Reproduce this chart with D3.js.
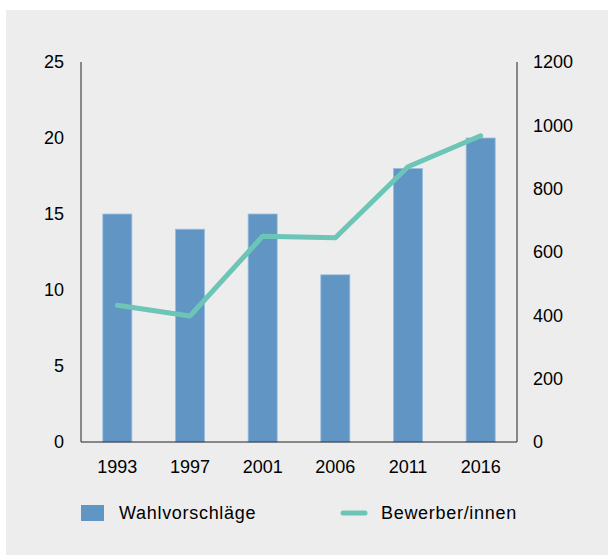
<!DOCTYPE html>
<html><head><meta charset="utf-8">
<script src="https://cdn.jsdelivr.net/npm/d3@7"></script>
<style>body{margin:0;background:#fff}svg{display:block}</style>
</head><body>
<script>
const years = ["1993","1997","2001","2006","2011","2016"];
const wahlvorschlaege = [15, 14, 15, 11, 18, 20];
const bewerber = [432, 398, 650, 645, 869, 967];
const leftTicks = [0, 5, 10, 15, 20, 25];
const rightTicks = [0, 200, 400, 600, 800, 1000, 1200];
const legendLabels = ["Wahlvorschläge", "Bewerber/innen"];

const W = 609, H = 555;
const svg = d3.select("body").append("svg").attr("width", W).attr("height", H);
const font = "'Liberation Sans', Arial, Helvetica, sans-serif";
svg.append("rect").attr("x", 6).attr("y", 10).attr("width", 602).attr("height", 545).attr("fill", "#ededed");

const x0 = 81, x1 = 517, yTop = 62, yBot = 442;
const x = d3.scaleBand().domain(years).range([x0, x1]).paddingInner(0.6).paddingOuter(0.3);
const yL = d3.scaleLinear().domain([0, 25]).range([yBot, yTop]);
const yR = d3.scaleLinear().domain([0, 1200]).range([yBot, yTop]);

// bars
svg.append("g").selectAll("rect").data(years).join("rect")
  .attr("x", d => x(d)).attr("width", x.bandwidth())
  .attr("y", (d, i) => yL(wahlvorschlaege[i]))
  .attr("height", (d, i) => yBot - yL(wahlvorschlaege[i]))
  .attr("fill", "#6195c4").attr("stroke", "#9dbde0").attr("stroke-width", 0.8);

// axes lines
const axisC = "#222";
svg.append("line").attr("x1", x0).attr("x2", x0).attr("y1", yTop).attr("y2", yBot).attr("stroke", axisC).attr("stroke-width", 1);
svg.append("line").attr("x1", x1).attr("x2", x1).attr("y1", yTop).attr("y2", yBot).attr("stroke", axisC).attr("stroke-width", 1);
svg.append("line").attr("x1", x0).attr("x2", x1).attr("y1", yBot).attr("y2", yBot).attr("stroke", axisC).attr("stroke-width", 1);

// line
const line = d3.line().x((d, i) => x(years[i]) + x.bandwidth() / 2).y(d => yR(d));
svg.append("path").datum(bewerber).attr("d", line).attr("fill", "none")
  .attr("stroke", "#6cc5b6").attr("stroke-width", 5).attr("stroke-linecap", "round").attr("stroke-linejoin", "round");

// tick labels
const fs = 18, tc = "#000";
svg.append("g").selectAll("text").data(leftTicks).join("text")
  .attr("x", 64).attr("y", d => yL(d)).attr("dy", "0.35em").attr("text-anchor", "end")
  .attr("font-family", font).attr("font-size", fs).attr("fill", tc).text(d => d);
svg.append("g").selectAll("text").data(rightTicks).join("text")
  .attr("x", 533).attr("y", d => yR(d)).attr("dy", "0.35em").attr("text-anchor", "start")
  .attr("font-family", font).attr("font-size", fs).attr("fill", tc).text(d => d);
svg.append("g").selectAll("text").data(years).join("text")
  .attr("x", d => x(d) + x.bandwidth() / 2).attr("y", 472.5).attr("text-anchor", "middle")
  .attr("font-family", font).attr("font-size", fs).attr("fill", tc).text(d => d);

// legend
svg.append("rect").attr("x", 81).attr("y", 505).attr("width", 23).attr("height", 16).attr("fill", "#6195c4");
svg.append("text").attr("x", 119).attr("y", 519).attr("font-family", font).attr("font-size", fs)
  .attr("letter-spacing", 0.7).attr("fill", tc).text(legendLabels[0]);
svg.append("line").attr("x1", 343).attr("x2", 365).attr("y1", 513).attr("y2", 513)
  .attr("stroke", "#6cc5b6").attr("stroke-width", 5).attr("stroke-linecap", "round");
svg.append("text").attr("x", 381).attr("y", 519).attr("font-family", font).attr("font-size", fs)
  .attr("letter-spacing", 0.7).attr("fill", tc).text(legendLabels[1]);
</script>
</body></html>
